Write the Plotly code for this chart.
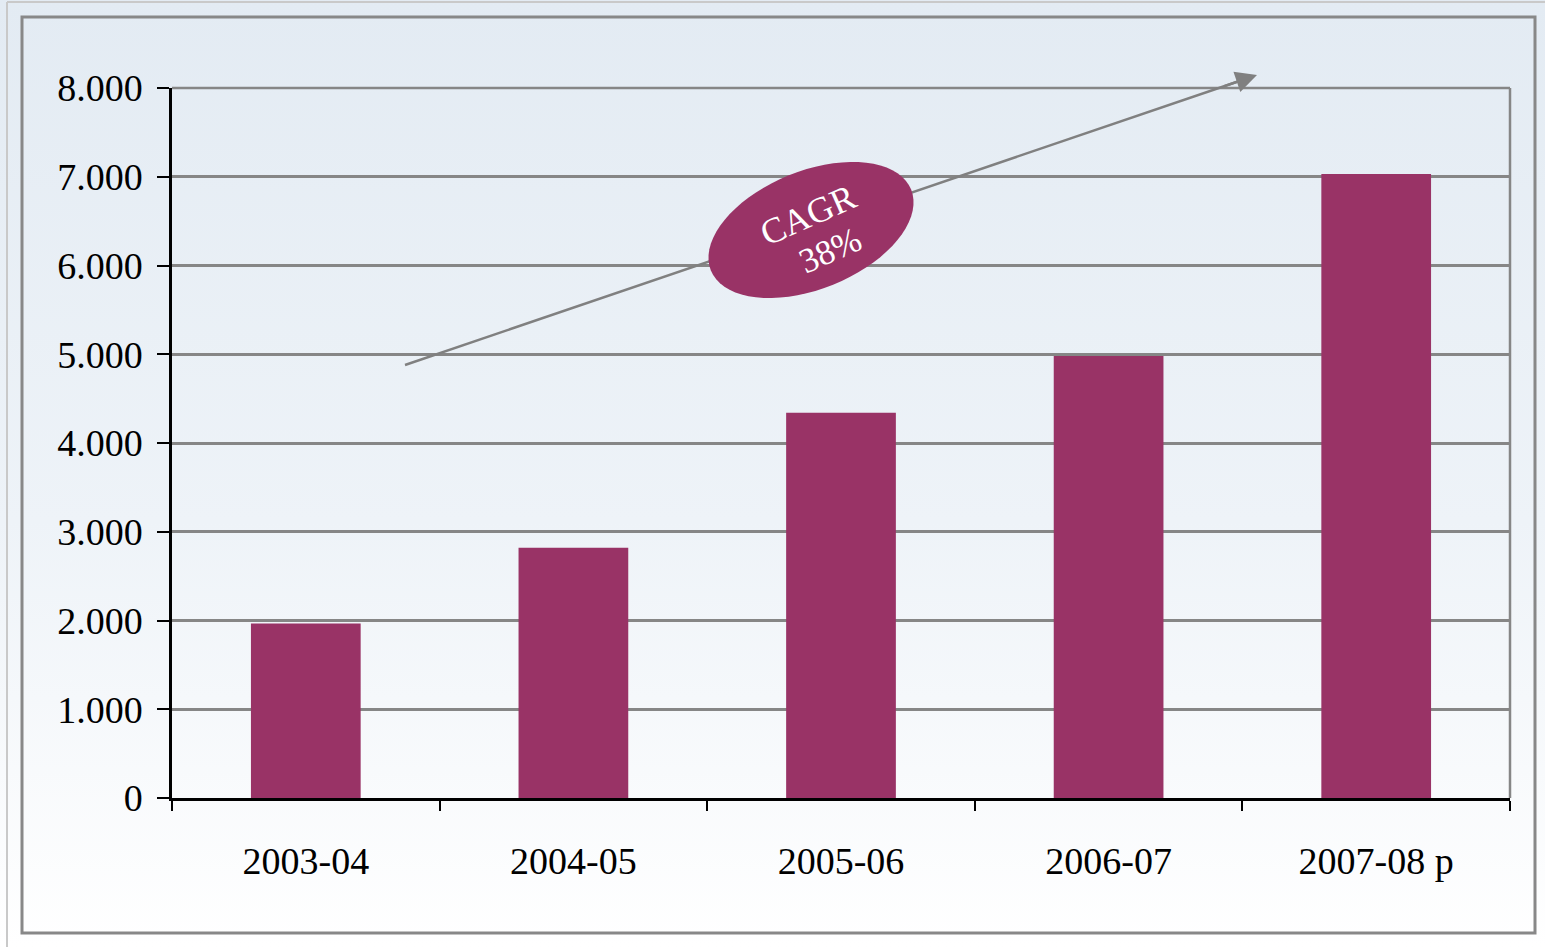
import base64
import math
import plotly.graph_objects as go

# ---- data ----
categories = ["2003-04", "2004-05", "2005-06", "2006-07", "2007-08 p"]
values = [1965, 2820, 4340, 4980, 7030]
y_ticks = [0, 1000, 2000, 3000, 4000, 5000, 6000, 7000, 8000]
cagr_label = "CAGR"
cagr_value = "38%"

# ---- layout geometry (pixels) ----
W, H = 1545, 947
L, R, T, B = 172, 35, 88, 149
PW, PH = W - L - R, H - T - B

def px(X):
    return (X - L) / PW

def py(Y):
    return (H - B - Y) / PH

BAR = "#993366"
GRID = "#868686"
FONT = "Liberation Serif"

fig = go.Figure()
fig.add_trace(go.Bar(
    x=categories, y=values, marker=dict(color=BAR, line=dict(width=0)),
    hoverinfo="skip", showlegend=False,
))

# background gradient
svg = ('<svg xmlns="http://www.w3.org/2000/svg" width="100" height="100" preserveAspectRatio="none">'
       '<defs><linearGradient id="g" x1="0" y1="0" x2="0" y2="1">'
       '<stop offset="0" stop-color="#e3ebf3"/><stop offset="0.55" stop-color="#eef3f8"/>'
       '<stop offset="1" stop-color="#ffffff"/></linearGradient></defs>'
       '<rect width="100" height="100" fill="url(#g)"/></svg>')
src = "data:image/svg+xml;base64," + base64.b64encode(svg.encode()).decode()

shapes = []
# outer light border
shapes.append(dict(type="line", xref="paper", yref="paper", x0=px(7), x1=px(W), y0=py(2), y1=py(2),
                   line=dict(color="#c9c9c9", width=2), layer="below"))
shapes.append(dict(type="line", xref="paper", yref="paper", x0=px(7), x1=px(7), y0=py(2), y1=py(H),
                   line=dict(color="#c9c9c9", width=2), layer="below"))
# inner frame
shapes.append(dict(type="rect", xref="paper", yref="paper", x0=px(22), x1=px(1535), y0=py(933), y1=py(17),
                   line=dict(color="#888888", width=3), fillcolor="rgba(0,0,0,0)", layer="below"))
# right and top plot border
shapes.append(dict(type="line", xref="paper", yref="paper", x0=1, x1=1, y0=0, y1=1,
                   line=dict(color=GRID, width=2.5), layer="below"))
shapes.append(dict(type="line", xref="paper", yref="paper", x0=0, x1=1, y0=1, y1=1,
                   line=dict(color=GRID, width=2.5), layer="below"))
# trend arrow line
ax0, ay0, ax1, ay1 = 405, 365, 1257, 75
shapes.append(dict(type="line", xref="paper", yref="paper", x0=px(ax0), y0=py(ay0), x1=px(ax1 - 8), y1=py(ay1 + 2.7),
                   line=dict(color="#808080", width=2.5), layer="above"))
# rotated ellipse
cx, cy, a, b, th = 811, 230, 108, 59, math.radians(22)
pts = []
for i in range(73):
    t = 2 * math.pi * i / 72
    X = cx + a * math.cos(t) * math.cos(th) + b * math.sin(t) * math.sin(th)
    Y = cy - a * math.cos(t) * math.sin(th) + b * math.sin(t) * math.cos(th)
    pts.append((px(X), py(Y)))
path = "M " + " L ".join(f"{x:.5f},{y:.5f}" for x, y in pts) + " Z"
shapes.append(dict(type="path", xref="paper", yref="paper", path=path, fillcolor=BAR,
                   line=dict(width=0), layer="above"))

annotations = [
    # arrow head
    dict(x=px(ax1), y=py(ay1), xref="paper", yref="paper", text="", showarrow=True,
         ax=-(ax1 - ax0) * 0.04, ay=(ay0 - ay1) * 0.04, arrowhead=2, arrowsize=1.7,
         arrowwidth=2.5, arrowcolor="#808080", standoff=0),
    dict(x=px(808), y=py(215), xref="paper", yref="paper", text=cagr_label, showarrow=False,
         xanchor="center", yanchor="middle",
         textangle=-24, font=dict(family=FONT, size=36, color="white")),
    dict(x=px(830), y=py(250), xref="paper", yref="paper", text=cagr_value, showarrow=False,
         xanchor="center", yanchor="middle",
         textangle=-24, font=dict(family=FONT, size=35, color="white")),
]

fig.update_layout(
    width=W, height=H,
    margin=dict(l=L, r=R, t=T, b=B, autoexpand=False),
    paper_bgcolor="white", plot_bgcolor="rgba(0,0,0,0)",
    separators=",.",
    bargap=0.59,
    font=dict(family=FONT, size=38, color="black"),
    images=[dict(source=src, xref="paper", yref="paper", x=px(0), y=py(0),
                 sizex=W / PW, sizey=H / PH, sizing="stretch", xanchor="left", yanchor="top",
                 layer="below")],
    shapes=shapes, annotations=annotations,
    xaxis=dict(type="category", showgrid=False, showline=True, linecolor="black", linewidth=2.5,
               ticks="outside", tickson="boundaries", ticklen=10, tickwidth=2, tickcolor="black",
               ticklabelstandoff=28, tickfont=dict(family=FONT, size=38, color="black"),
               fixedrange=True),
    yaxis=dict(range=[0, 8000], tickvals=y_ticks, tickformat=",.0f", showgrid=True,
               gridcolor=GRID, gridwidth=2.5, zeroline=False, showline=True, linecolor="black",
               linewidth=2.5, ticks="outside", ticklen=12, tickwidth=2, tickcolor="black",
               ticklabelstandoff=7, tickfont=dict(family=FONT, size=38, color="black"),
               fixedrange=True),
)

fig.write_html("out.html", config={"displayModeBar": False},
               post_script="document.body.style.margin='0';document.body.style.overflow='hidden';")
